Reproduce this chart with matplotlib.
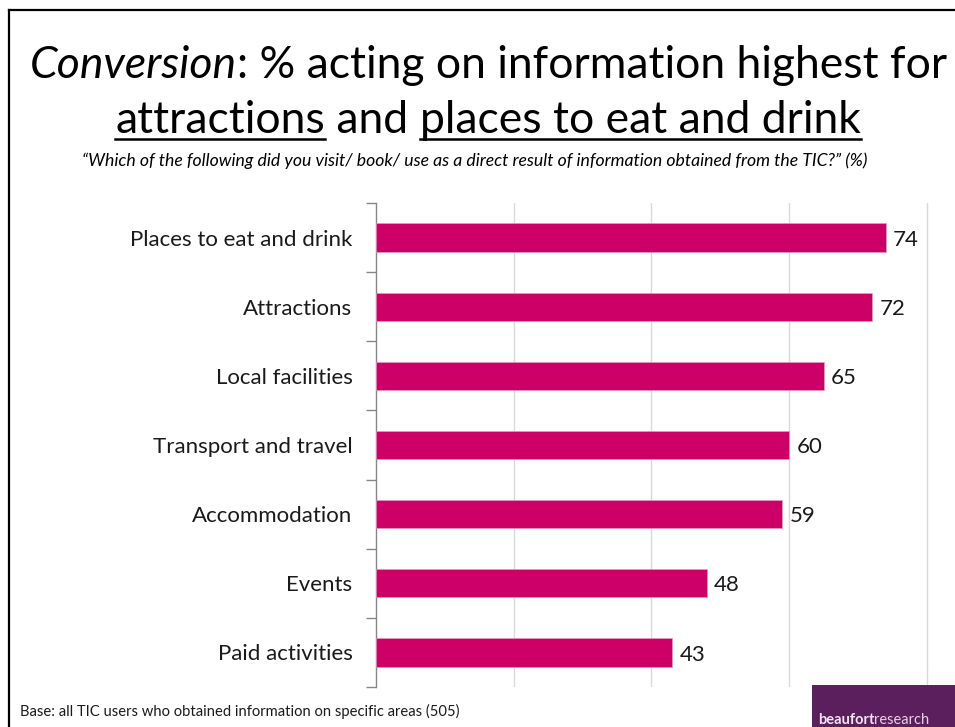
import matplotlib
matplotlib.use('Agg')
from matplotlib import pyplot as plt
from matplotlib.lines import Line2D
from matplotlib.patches import Rectangle

# Survey results (% acting on TIC information)
categories = ['Places to eat and drink', 'Attractions', 'Local facilities',
              'Transport and travel', 'Accommodation', 'Events', 'Paid activities']
values = [74, 72, 65, 60, 59, 48, 43]

BAR_COLOR = '#CC0066'
W, H = 955, 727

plt.rcParams['font.family'] = ['Lato', 'DejaVu Sans']


def text_row(fig, pieces, y, size, xc=0.5):
    """Lay out styled text pieces on one baseline, centred, with optional underline."""
    renderer = fig.canvas.get_renderer()
    texts = []
    for s, style, underline in pieces:
        t = fig.text(0, y, s, fontsize=size, style=style, va='baseline', ha='left')
        texts.append((t, underline))
    widths = [t.get_window_extent(renderer).width for t, _ in texts]
    x = xc * W - sum(widths) / 2
    for (t, underline), w in zip(texts, widths):
        t.set_x(x / W)
        if underline:
            yl = y - 6 / H
            fig.add_artist(Line2D([x / W, (x + w) / W], [yl, yl], color='black',
                                  linewidth=1.8, transform=fig.transFigure))
        x += w


def main():
    fig = plt.figure(figsize=(W / 100, H / 100), dpi=100)
    fig.patch.set_facecolor('white')

    # Slide frame
    fig.add_artist(Line2D([9 / W, 1], [1 - 10 / H, 1 - 10 / H], color='black',
                          linewidth=1.6, transform=fig.transFigure))
    fig.add_artist(Line2D([9 / W, 9 / W], [0, 1 - 10 / H], color='black',
                          linewidth=1.6, transform=fig.transFigure))

    # Title and question text
    text_row(fig, [('Conversion', 'italic', False),
                   (': % acting on information highest for', 'normal', False)],
             1 - 78 / H, 32, xc=0.511)
    text_row(fig, [('attractions', 'normal', True),
                   (' and ', 'normal', False),
                   ('places to eat and drink', 'normal', True)],
             1 - 133 / H, 32, xc=0.511)
    fig.text(0.497, 1 - 166 / H,
             '\u201cWhich of the following did you visit/ book/ use as a direct result '
             'of information obtained from the TIC?\u201d (%)',
             fontsize=12.7, style='italic', ha='center', va='baseline')

    # Bar chart
    ax = fig.add_axes([376 / W, 1 - 687 / H, (929 - 376) / W, (687 - 203) / H])
    ypos = list(range(len(categories)))
    ax.barh(ypos, values, height=0.41, color=BAR_COLOR, edgecolor='#E79AC0',
            linewidth=0.5, zorder=3)
    ax.set_xlim(0, 80.3)
    ax.set_ylim(len(categories) - 0.5, -0.5)

    for y, v in zip(ypos, values):
        ax.text(v + 1.1, y + 0.03, str(v), va='center', ha='left', fontsize=16,
                color='#1a1a1a')

    ax.set_yticks(ypos)
    ax.set_yticklabels(categories, fontsize=16, color='#1a1a1a')
    ax.tick_params(axis='y', which='major', length=0, pad=17)
    ax.set_yticks([i - 0.5 for i in range(len(categories) + 1)], minor=True)
    ax.tick_params(axis='y', which='minor', length=7, color='#868686', width=1)

    ax.set_xticks([20, 40, 60, 80])
    ax.tick_params(axis='x', length=0, labelbottom=False)
    ax.grid(axis='x', color='#D9D9D9', linewidth=1, zorder=0)

    for side in ['top', 'right', 'bottom']:
        ax.spines[side].set_visible(False)
    ax.spines['left'].set_color('#868686')
    ax.spines['left'].set_linewidth(1)

    # Footnote
    fig.text(20 / W, 1 - 716 / H,
             'Base: all TIC users who obtained information on specific areas (505)',
             fontsize=10.6, ha='left', va='baseline', color='#1a1a1a')

    # Logo block
    fig.add_artist(Rectangle((812 / W, 0), (W - 812) / W, 42 / H, facecolor='#5C1F5E',
                             edgecolor='none', transform=fig.transFigure))
    t1 = fig.text(818 / W, 3 / H, 'beaufort', fontsize=10.5, fontweight='bold',
                  color='#F2E6F0', ha='left', va='baseline')
    renderer = fig.canvas.get_renderer()
    w1 = t1.get_window_extent(renderer).width
    fig.text((818 + w1) / W, 3 / H, 'research', fontsize=10.5, color='#E6D3E4',
             ha='left', va='baseline')

    fig.savefig('out.png', dpi=100)


if __name__ == '__main__':
    main()
